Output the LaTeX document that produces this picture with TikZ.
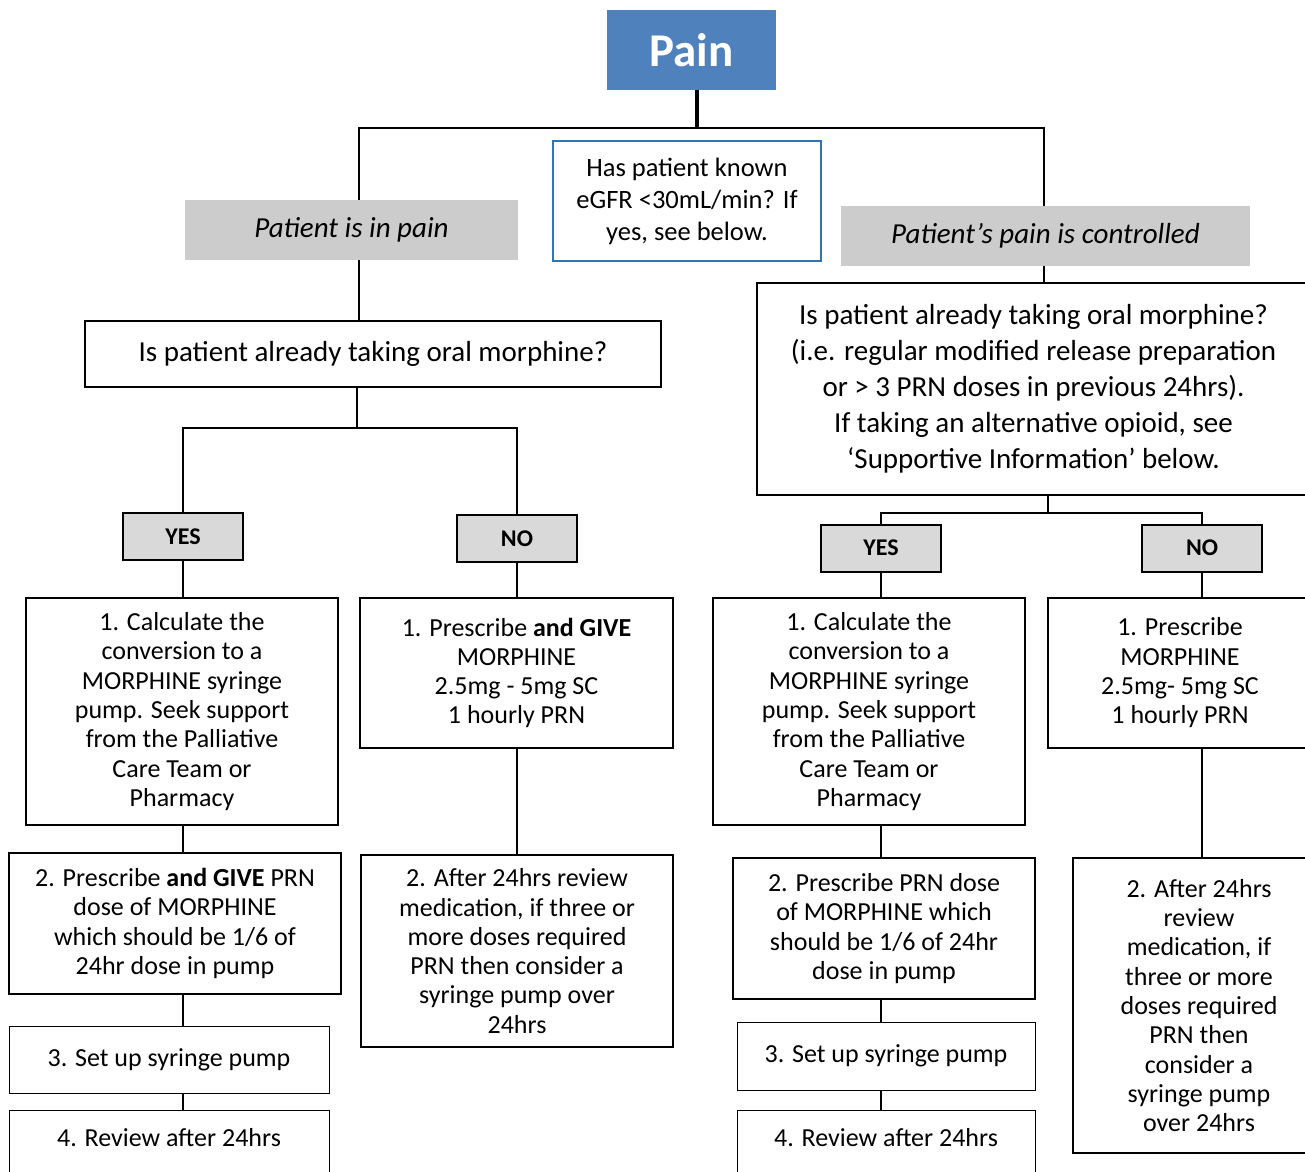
\documentclass[tikz,border=0pt]{standalone}
\usepackage{fontspec}
\setmainfont{Carlito}
\definecolor{painblue}{HTML}{4F81BD}
\definecolor{infoblue}{HTML}{2E75B6}
\definecolor{condgrey}{HTML}{CCCCCC}
\definecolor{choicegrey}{HTML}{D9D9D9}
\tikzset{
  txt/.style={align=center, inner sep=0pt, font=\fontsize{26}{29.3}\selectfont},
  stepbox/.style={txt, draw, line width=2pt},
  thinbox/.style={txt, draw, line width=1pt},
  askbox/.style={stepbox, line width=2.4pt, font=\fontsize{29}{36}\selectfont},
  condbox/.style={txt, fill=condgrey, font=\fontsize{29}{36}\selectfont\itshape},
  choice/.style={txt, draw, fill=choicegrey, line width=2pt, minimum width=120pt,
    minimum height=47pt, font=\fontsize{24}{28}\selectfont\bfseries},
  link/.style={line width=1.3pt},
}

\begin{document}
\begin{tikzpicture}[x=1pt, y=-1pt]
      \useasboundingbox (0,0) rectangle (1305,1171);
      \node[fill=painblue, text=white, font=\fontsize{47}{50}\selectfont\bfseries, minimum width=169pt, minimum height=80pt] (p) at (691.5,50) {Pain};
      \node[txt, draw=infoblue, line width=1.5pt, minimum width=268pt, minimum height=120pt, font=\fontsize{26.5}{32}\selectfont] (e) at (687,201) {Has patient known\\eGFR <30mL/min? If\\yes, see below.};
      \node[condbox, minimum width=333pt, minimum height=60pt] (a) at (351.5,230) {Patient is in pain};
      \node[condbox, minimum width=409pt, minimum height=60pt] (b) at (1045.5,236) {Patient’s pain is controlled};
      \node[askbox, minimum width=576pt, minimum height=66pt] (qa) at (373,354) {Is patient already taking oral morphine?};
      \node[askbox, minimum width=553pt, minimum height=212pt] (qb) at (1033.5,389) {Is patient already taking oral morphine?\\(i.e. regular modified release preparation\\or > 3 PRN doses in previous 24hrs).\\If taking an alternative opioid, see\\‘Supportive Information’ below.};
      \node[choice] (ya) at (183,536.5) {YES};
      \node[choice] (na) at (517,538.5) {NO};
      \node[choice] (yb) at (881,548) {YES};
      \node[choice] (nb) at (1202,548) {NO};
      \node[stepbox, minimum width=312pt, minimum height=227pt] (a1) at (182,711.5) {1. Calculate the\\conversion to a\\MORPHINE syringe\\pump. Seek support\\from the Palliative\\Care Team or\\Pharmacy};
      \node[stepbox, minimum width=332pt, minimum height=141pt] (a2) at (175,923.5) {2. Prescribe \textbf{and GIVE} PRN\\dose of MORPHINE\\which should be 1/6 of\\24hr dose in pump};
      \node[thinbox, minimum width=320pt, minimum height=67pt] (a3) at (169,1059.5) {3. Set up syringe pump};
      \node[thinbox, minimum width=320pt, anchor=north, text height=36pt, text depth=40pt] (a4) at (169,1110) {4. Review after 24hrs};
      \node[stepbox, minimum width=313pt, minimum height=150pt] (n1) at (516.5,673) {1. Prescribe \textbf{and GIVE}\\MORPHINE\\2.5mg - 5mg SC\\1 hourly PRN};
      \node[stepbox, minimum width=312pt, minimum height=192pt] (n2) at (517,951) {2. After 24hrs review\\medication, if three or\\more doses required\\PRN then consider a\\syringe pump over\\24hrs};
      \node[stepbox, minimum width=312pt, minimum height=227pt] (b1) at (869,711.5) {1. Calculate the\\conversion to a\\MORPHINE syringe\\pump. Seek support\\from the Palliative\\Care Team or\\Pharmacy};
      \node[stepbox, minimum width=302pt, minimum height=141pt] (b2) at (884,928.5) {2. Prescribe PRN dose\\of MORPHINE which\\should be 1/6 of 24hr\\dose in pump};
      \node[thinbox, minimum width=298pt, minimum height=68pt] (b3) at (886,1056) {3. Set up syringe pump};
      \node[thinbox, minimum width=298pt, anchor=north, text height=36pt, text depth=40pt] (b4) at (886,1110) {4. Review after 24hrs};
      \node[stepbox, minimum width=264pt, minimum height=150pt] (m1) at (1180,673) {1. Prescribe\\MORPHINE\\2.5mg- 5mg SC\\1 hourly PRN};
      \node[stepbox, minimum width=252pt, minimum height=295pt] (m2) at (1199,1005.5) {2. After 24hrs\\review\\medication, if\\three or more\\doses required\\PRN then\\consider a\\syringe pump\\over 24hrs};
      \coordinate (t) at (697,128);
      \coordinate (tl) at (359,128);
      \coordinate (tr) at (1044,128);
      \coordinate (ml) at (357,428);
      \coordinate (mr) at (1048,513);
      \draw [line width=4pt] (p.south -| t) to (t);
      \draw [link] (a.north -| tl) |- (tr) to (tr |- b.north);
      \draw [link] (a.south -| tl) to (tl |- qa.north);
      \draw [link] (b.south -| tr) to (tr |- qb.north);
      \draw [link] (qa.south -| ml) to (ml);
      \draw [link] (ya.north) |- (ml) -| (na.north);
      \draw [link] (qb.south -| mr) to (mr);
      \draw [link] (yb.north) |- (mr) -| (nb.north);
      \draw [link] (ya.south) to (ya.south |- a1.north);
      \draw [link] (a1.south -| ya) to (ya |- a2.north);
      \draw [link] (a2.south -| ya) to (ya |- a3.north);
      \draw [link] (a3.south -| ya) to (ya |- a4.north);
      \draw [link] (na.south) to (na.south |- n1.north);
      \draw [link] (n1.south -| na) to (na |- n2.north);
      \draw [link] (yb.south) to (yb.south |- b1.north);
      \draw [link] (b1.south -| yb) to (yb |- b2.north);
      \draw [link] (b2.south -| yb) to (yb |- b3.north);
      \draw [link] (b3.south -| yb) to (yb |- b4.north);
      \draw [link] (nb.south) to (nb.south |- m1.north);
      \draw [link] (m1.south -| nb) to (nb |- m2.north);
    \end{tikzpicture}
\end{document}
